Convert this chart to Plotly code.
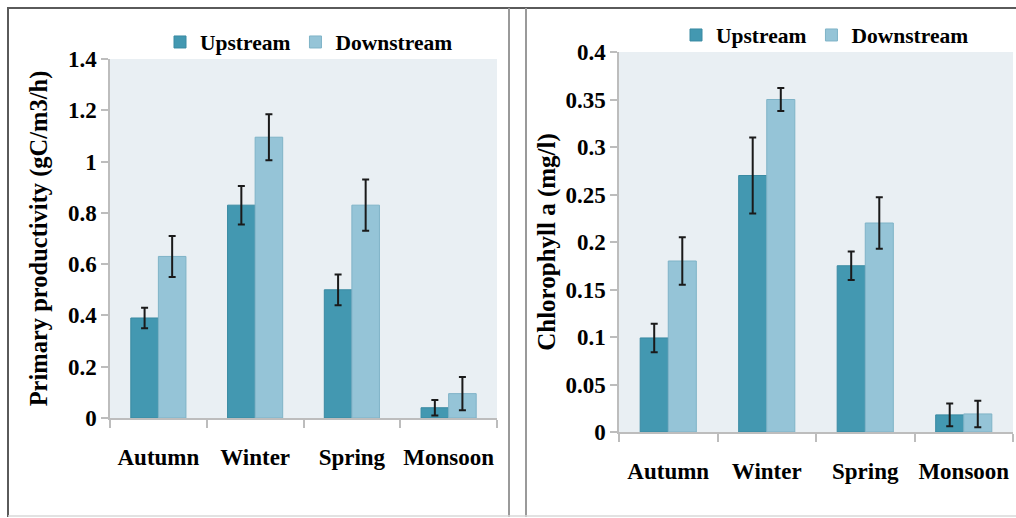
import plotly.graph_objects as go

seasons = ["Autumn", "Winter", "Spring", "Monsoon"]

# Left panel: Primary productivity (gC/m3/h)
pp_up = [0.39, 0.83, 0.50, 0.04]
pp_up_err = [0.04, 0.075, 0.06, 0.03]
pp_down = [0.63, 1.095, 0.83, 0.095]
pp_down_err = [0.08, 0.09, 0.10, 0.065]

# Right panel: Chlorophyll a (mg/l)
chl_up = [0.099, 0.27, 0.175, 0.018]
chl_up_err = [0.015, 0.04, 0.015, 0.012]
chl_down = [0.18, 0.35, 0.22, 0.019]
chl_down_err = [0.025, 0.012, 0.027, 0.014]

UP = "#4398B1"
DOWN = "#95C4D7"
UP_EDGE = "#3A8AA2"
DOWN_EDGE = "#7FB3C7"
BG = "#E9EFF3"
AX = "#BDBDBD"
FONT = "Liberation Serif"

W, H = 1016, 518

def px(x):
    return x / W

def py(y):
    return (H - y) / H

fig = go.Figure()

def add_pair(up, upe, down, downe, xa, ya, leg):
    fig.add_trace(go.Bar(
        x=seasons, y=up, name="Upstream", xaxis=xa, yaxis=ya, legend=leg,
        marker=dict(color=UP, line=dict(color=UP_EDGE, width=1)),
        error_y=dict(type="data", array=upe, color="#1a1a1a", thickness=2, width=3.5),
    ))
    fig.add_trace(go.Bar(
        x=seasons, y=down, name="Downstream", xaxis=xa, yaxis=ya, legend=leg,
        marker=dict(color=DOWN, line=dict(color=DOWN_EDGE, width=1)),
        error_y=dict(type="data", array=downe, color="#1a1a1a", thickness=2, width=3.5),
    ))

add_pair(pp_up, pp_up_err, pp_down, pp_down_err, "x", "y", "legend")
add_pair(chl_up, chl_up_err, chl_down, chl_down_err, "x2", "y2", "legend2")

tick_font = dict(family=FONT, size=23, color="black", weight="bold")
title_font_l = dict(family=FONT, size=24.5, color="black", weight="bold")
title_font_r = dict(family=FONT, size=25, color="black", weight="bold")
leg_font = dict(family=FONT, size=21.5, color="black", weight="bold")

xcommon = dict(
    type="category", showline=True, linecolor=AX, linewidth=1.5,
    ticks="outside", tickson="boundaries", ticklen=8, tickcolor=AX, tickwidth=1.5,
    tickfont=tick_font, ticklabelstandoff=18, tickangle=0, showgrid=False,
    zeroline=False, automargin=False,
)
ycommon = dict(
    showline=True, linecolor=AX, linewidth=1.5, ticks="outside", ticklen=7,
    tickcolor=AX, tickwidth=1.5, tickfont=tick_font, showgrid=False, zeroline=False,
    automargin=False,
)

fig.update_layout(
    width=W, height=H,
    margin=dict(l=0, r=0, t=0, b=0, autoexpand=False),
    paper_bgcolor="white",
    plot_bgcolor=BG,
    barmode="group", bargap=0.43, bargroupgap=0,
    xaxis=dict(domain=[px(110), px(497)], anchor="y", **xcommon),
    yaxis=dict(domain=[py(418), py(59)], anchor="x", range=[0, 1.4], dtick=0.2,
               title=dict(text="Primary productivity (gC/m3/h)", font=title_font_l, standoff=13),
               **ycommon),
    xaxis2=dict(domain=[px(619), px(1013)], anchor="y2", **xcommon),
    yaxis2=dict(domain=[py(432), py(52)], anchor="x2", range=[0, 0.4], dtick=0.05,
                title=dict(text="Chlorophyll a (mg/l)", font=title_font_r, standoff=3),
                **ycommon),
    legend=dict(orientation="h", x=px(160), xanchor="left", y=py(42), yanchor="middle",
                font=leg_font, bgcolor="rgba(0,0,0,0)", itemwidth=30, traceorder="normal"),
    legend2=dict(orientation="h", x=px(676), xanchor="left", y=py(35), yanchor="middle",
                 font=leg_font, bgcolor="rgba(0,0,0,0)", itemwidth=30, traceorder="normal"),
    showlegend=True,
)

# panel frames
frame = [
    dict(x0=px(7), x1=1, y0=py(8), y1=py(8), color="#5a5a5a", w=2),
    dict(x0=px(8), x1=px(8), y0=py(8), y1=py(517), color="#5a5a5a", w=2),
    dict(x0=px(509), x1=px(509), y0=py(8), y1=py(517), color="#9a9a9a", w=2),
    dict(x0=px(526), x1=px(526), y0=py(8), y1=py(517), color="#9a9a9a", w=2),
    dict(x0=px(8), x1=1, y0=py(516), y1=py(516), color="#d8d8d8", w=1.5),
]
for f in frame:
    fig.add_shape(type="line", xref="paper", yref="paper", x0=f["x0"], x1=f["x1"],
                  y0=f["y0"], y1=f["y1"], line=dict(color=f["color"], width=f["w"]))

fig.write_html(
    "out.html",
    config={"displayModeBar": False},
    post_script="document.body.style.margin='0';document.body.style.overflow='hidden';",
)
